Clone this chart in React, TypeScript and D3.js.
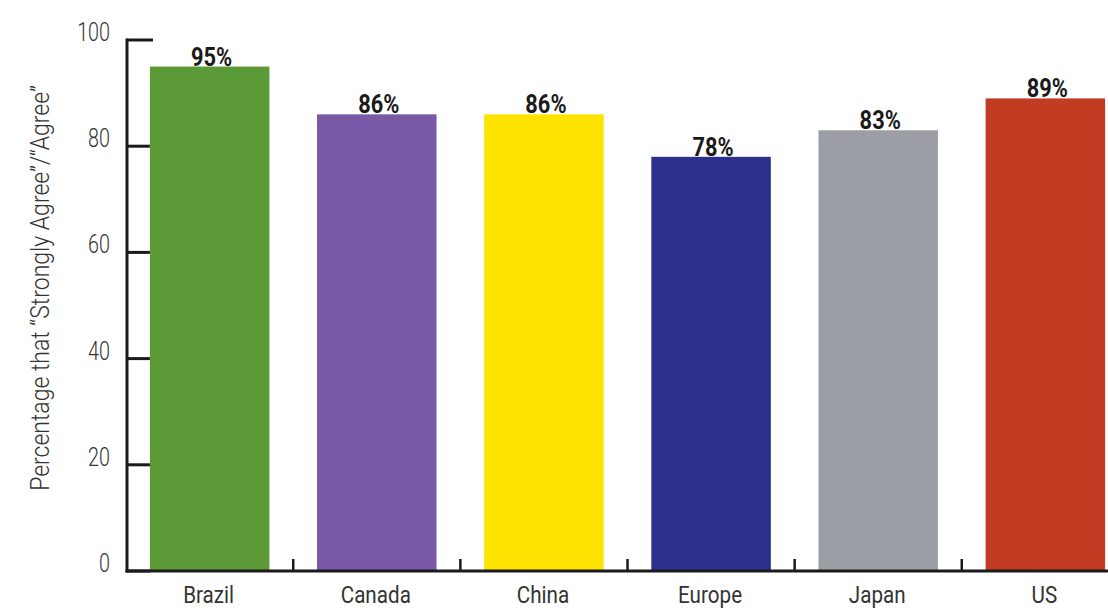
import React from "react";
import * as d3 from "d3";

const categories = ["Brazil", "Canada", "China", "Europe", "Japan", "US"];
const values = [95, 86, 86, 78, 83, 89];
const barColors = ["#5b9a36", "#7a58a8", "#fde300", "#2c2f8b", "#9b9fa5", "#c33b22"];
const yTicks = [0, 20, 40, 60, 80, 100];
const yTitle = "Percentage that \u201cStrongly Agree\u201d/\u201cAgree\u201d";

const W = 1108;
const H = 610;
const axisX = 127;
const FONT = "Roboto, 'Liberation Sans', sans-serif";

export default function App() {
  const y = d3.scaleLinear().domain([0, 100]).range([571, 40]);
  const x = d3
    .scaleBand<string>()
    .domain(categories)
    .range([axisX - 0.5, axisX - 0.5 + categories.length * 167])
    .paddingInner(0.285)
    .paddingOuter(0.14);
  const step = x.step();
  const gap = step * x.paddingInner();
  const base = y(0);

  return (
    <svg
      width={W}
      height={H}
      style={{ position: "absolute", left: 0, top: 0, background: "#fff" }}
    >
      {/* bars */}
      {categories.map((c, i) => (
        <rect
          key={c}
          x={x(c)}
          y={y(values[i])}
          width={x.bandwidth()}
          height={base - y(values[i])}
          fill={barColors[i]}
        />
      ))}

      {/* axes */}
      <line x1={axisX} x2={axisX} y1={y(100) - 1.5} y2={base + 1.5} stroke="#1a1a1a" strokeWidth={3} />
      <line x1={axisX - 1.5} x2={W} y1={base} y2={base} stroke="#1a1a1a" strokeWidth={3} />
      {yTicks.map((t) => (
        <line
          key={t}
          x1={axisX}
          x2={t === 100 ? axisX + 26 : (x(categories[0]) as number)}
          y1={y(t)}
          y2={y(t)}
          stroke="#1a1a1a"
          strokeWidth={3}
        />
      ))}
      {categories.slice(1).map((c) => {
        const tx = (x(c) as number) - gap / 2;
        return <line key={c} x1={tx} x2={tx} y1={base} y2={base - 12} stroke="#1a1a1a" strokeWidth={2.5} />;
      })}

      {/* y tick labels */}
      {yTicks.map((t) => (
        <g key={t} transform={`translate(110,${y(t) + 1}) scale(0.76,1)`}>
          <text textAnchor="end" fontFamily={FONT} fontWeight={300} fontSize={26} fill="#333">
            {t}
          </text>
        </g>
      ))}

      {/* value labels */}
      {categories.map((c, i) => (
        <g
          key={c}
          transform={`translate(${(x(c) as number) + x.bandwidth() / 2 + 2},${y(values[i]) - 1}) scale(0.84,1)`}
        >
          <text textAnchor="middle" fontFamily={FONT} fontWeight={700} fontSize={26} fill="#1a1a1a">
            {values[i]}%
          </text>
        </g>
      ))}

      {/* category labels */}
      {categories.map((c) => (
        <g key={c} transform={`translate(${(x(c) as number) + x.bandwidth() / 2 - 1},603) scale(0.86,1)`}>
          <text textAnchor="middle" fontFamily={FONT} fontWeight={400} fontSize={24} fill="#333">
            {c}
          </text>
        </g>
      ))}

      {/* y axis title */}
      <g transform={`translate(49,288) rotate(-90) scale(0.92,1)`}>
        <text textAnchor="middle" fontFamily={FONT} fontWeight={300} fontSize={25} fill="#333">
          {yTitle}
        </text>
      </g>
    </svg>
  );
}
